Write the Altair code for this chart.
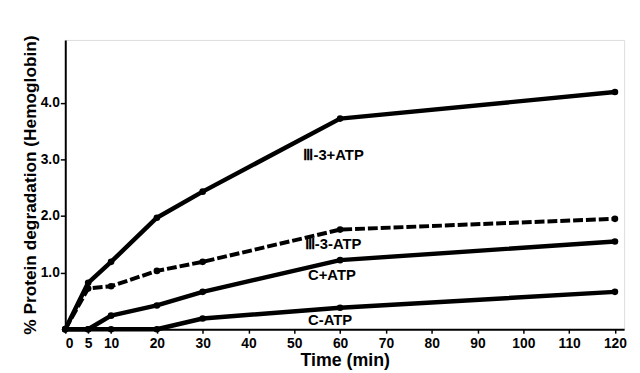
import altair as alt
import pandas as pd

times = [0, 5, 10, 20, 30, 60, 120]
s_iii_plus = [0.0, 0.82, 1.19, 1.97, 2.43, 3.72, 4.19]
s_iii_minus = [0.0, 0.72, 0.76, 1.03, 1.19, 1.76, 1.95]
s_c_plus = [0.0, 0.0, 0.24, 0.42, 0.66, 1.22, 1.55]
s_c_minus = [0.0, 0.0, 0.0, 0.0, 0.19, 0.38, 0.66]

series_names = ["Ⅲ-3+ATP", "Ⅲ-3-ATP", "C+ATP", "C-ATP"]
series_vals = [s_iii_plus, s_iii_minus, s_c_plus, s_c_minus]

x_ticks = [0, 5, 10, 20, 30, 40, 50, 60, 70, 80, 90, 100, 110, 120]
y_ticks = [1.0, 2.0, 3.0, 4.0]

label_x = [52, 52.3, 53, 53]
label_y = [3.07, 1.5, 0.95, 0.16]

rows = []
for name, vals in zip(series_names, series_vals):
    for t, v in zip(times, vals):
        rows.append({"time": t, "value": v, "series": name})
df = pd.DataFrame(rows)
labels = pd.DataFrame({"series": series_names, "x": label_x, "y": label_y})

FONT = "Liberation Sans"
xs = alt.Scale(domain=[0, 122], nice=False, zero=False)
ys = alt.Scale(domain=[0, 5.11], nice=False)

base = alt.Chart(df)

solid = base.transform_filter(alt.datum.series != "Ⅲ-3-ATP").mark_line(
    color="black", strokeWidth=4.5, strokeCap="round", strokeJoin="round"
).encode(
    x=alt.X("time:Q", scale=xs, axis=alt.Axis(
        values=x_ticks, title="Time (min)", labelFontSize=14, labelFontWeight="bold",
        titleFontSize=18, titleFontWeight="bold", tickSize=4, tickWidth=1.5,
        domainWidth=2, domainColor="black", tickColor="black", labelColor="black",
        titleColor="black", grid=False, labelFont=FONT, titleFont=FONT, titlePadding=1,
        labelPadding=4)),
    y=alt.Y("value:Q", scale=ys, axis=alt.Axis(
        values=y_ticks, format=".1f", title="% Protein degradation (Hemoglobin)",
        labelFontSize=14, labelFontWeight="bold", titleFontSize=17.5, titleFontWeight="bold",
        tickSize=5, tickWidth=1.5, domainWidth=2, domainColor="black", tickColor="black",
        labelColor="black", titleColor="black", grid=False, labelFont=FONT, titleFont=FONT,
        titlePadding=1, labelPadding=1)),
    detail="series:N",
)

dashed = base.transform_filter(alt.datum.series == "Ⅲ-3-ATP").mark_line(
    color="black", strokeWidth=4, strokeDash=[10, 3]
).encode(x=alt.X("time:Q", scale=xs), y=alt.Y("value:Q", scale=ys))

points = base.mark_circle(color="black", size=45, opacity=1).encode(
    x=alt.X("time:Q", scale=xs), y=alt.Y("value:Q", scale=ys)
)

text = alt.Chart(labels).mark_text(
    align="left", baseline="middle", fontSize=15, fontWeight="bold", font=FONT, color="black"
).encode(x=alt.X("x:Q", scale=xs), y=alt.Y("y:Q", scale=ys), text="series:N")

chart = alt.layer(solid, dashed, points, text).properties(
    width=566, height=293, autosize="none",
    padding={"left": 58, "top": 30, "right": 8, "bottom": 42},
).configure_view(stroke=None).configure(background="white")

chart.save("out.html", embed_options={"renderer": "svg", "actions": False})
